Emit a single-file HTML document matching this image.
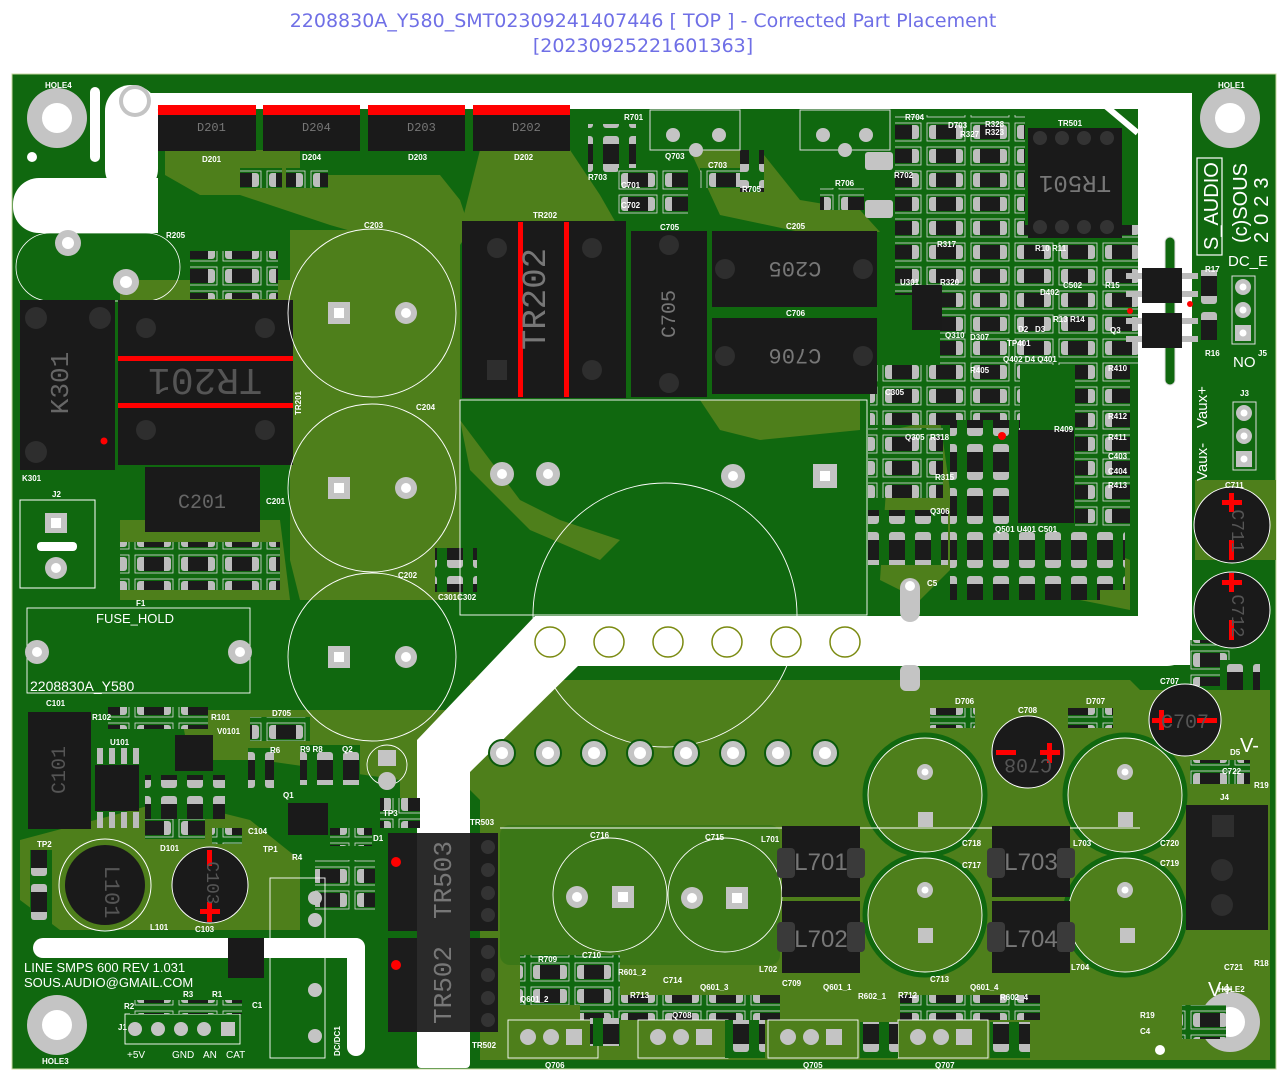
<!DOCTYPE html>
<html><head><meta charset="utf-8"><style>
html,body{margin:0;padding:0;background:#fff;width:1287px;height:1080px;overflow:hidden}
svg{display:block}
text{font-family:"Liberation Sans",sans-serif}
.t{fill:#fff;font-size:8px;font-weight:bold}
.big{fill:#fff;font-size:15px}
</style></head><body>
<svg width="1287" height="1080" viewBox="0 0 1287 1080" xmlns="http://www.w3.org/2000/svg">
<defs>
<pattern id="smd" width="44" height="24" patternUnits="userSpaceOnUse">
<rect x="0" y="0" width="44" height="24" fill="#10680f"/>
<rect x="3" y="3" width="38" height="18" fill="none" stroke="#ddd" stroke-width="0.8"/>
<rect x="5" y="5" width="34" height="14" rx="3" fill="#bdbdbd"/>
<rect x="12" y="5" width="20" height="14" fill="#1b1b1b"/>
</pattern>
<pattern id="smdv" width="26" height="44" patternUnits="userSpaceOnUse">
<rect width="26" height="44" fill="#10680f"/>
<rect x="5" y="4" width="16" height="36" rx="3" fill="#bdbdbd"/>
<rect x="5" y="12" width="16" height="20" fill="#1b1b1b"/>
</pattern>
</defs>
<text x="643" y="27" text-anchor="middle" font-size="19" fill="#6f6fe6" style="font-family:'DejaVu Sans',sans-serif">2208830A_Y580_SMT02309241407446 [ TOP ] - Corrected Part Placement</text>
<text x="643" y="52" text-anchor="middle" font-size="19" fill="#6f6fe6" style="font-family:'DejaVu Sans',sans-serif">[20230925221601363]</text>

<rect x="12" y="74" width="1264" height="995" fill="#10680f" stroke="#c8d8a0" stroke-width="1"/>

<g fill="#4e7f1b">
<polygon points="165,150 300,150 300,175 440,175 460,200 470,230 460,245 400,245 330,225 240,195 200,195 165,175"/>
<polygon points="480,150 570,150 600,195 620,230 460,230 470,190"/>
<polygon points="690,150 760,150 800,200 860,210 880,232 800,232 720,215"/>
<polygon points="290,230 460,230 460,600 420,600 300,600 290,560"/>
<polygon points="120,280 300,280 300,300 120,300"/>
<polygon points="470,680 1130,680 1140,690 1270,690 1270,1060 480,1060 480,800 470,790"/>
<polygon points="180,710 470,710 470,820 400,820 400,780 260,760 190,760"/>
<polygon points="20,840 170,800 250,820 300,860 300,930 60,930 20,900"/>
<polygon points="460,420 520,500 560,520 620,540 600,560 530,530 470,470"/>
<polygon points="700,400 860,400 860,430 760,440 720,430"/>
<polygon points="890,430 940,420 960,560 920,600 880,580"/>
<polygon points="1080,540 1130,560 1130,610 1080,600"/>
<polygon points="1195,480 1276,480 1276,560 1195,560"/>
<polygon points="120,520 280,520 290,600 120,600"/>
</g>
<g fill="none" stroke="#10680f" stroke-width="5">
<circle cx="925" cy="795" r="60"/><circle cx="925" cy="915" r="60"/>
<circle cx="1125" cy="795" r="60"/><circle cx="1125" cy="915" r="60"/>
</g>
<rect x="500" y="825" width="280" height="140" rx="10" fill="#10680f" opacity="0.3"/>

<g fill="#fff">
<rect x="150" y="93" width="1042" height="16"/>
<rect x="105" y="85" width="53" height="110" rx="26"/>
<rect x="13" y="178" width="145" height="55" rx="26"/>
<rect x="105" y="178" width="53" height="55"/>
<rect x="1138" y="93" width="54" height="572"/>
<rect x="535" y="616" width="657" height="50" rx="25"/>
<rect x="560" y="616" width="600" height="50"/>
<polygon points="560,616 470,706 470,770 417,770 417,740 535,616"/>
<polygon points="552,616 417,752 417,790 470,790 470,772 578,666"/>
<rect x="417" y="760" width="53" height="308" rx="4"/>
<rect x="33" y="938" width="332" height="20" rx="10"/>
<rect x="347" y="938" width="18" height="118" rx="9"/>
<rect x="1096" y="95" width="6" height="55" transform="rotate(-50 1100 100)"/>
</g>
<rect x="1165" y="237" width="10" height="148" rx="5" fill="#10680f" stroke="#ddd"/>
<rect x="130" y="95" width="25" height="35" fill="#fff"/>
<rect x="90" y="87" width="10" height="75" rx="5" fill="#fff"/>

<g>
<circle cx="57" cy="118" r="30" fill="#c4c4c4"/><circle cx="57" cy="118" r="15" fill="#fff"/>
<circle cx="1230" cy="118" r="30" fill="#c4c4c4"/><circle cx="1230" cy="118" r="15" fill="#fff"/>
<circle cx="57" cy="1025" r="30" fill="#c4c4c4"/><circle cx="57" cy="1025" r="15" fill="#fff"/>
<circle cx="1230" cy="1022" r="30" fill="#c4c4c4"/><circle cx="1230" cy="1022" r="15" fill="#fff"/>
<circle cx="135" cy="101" r="16" fill="#c4c4c4"/><circle cx="135" cy="101" r="12" fill="#fff"/>
<circle cx="32" cy="157" r="5" fill="#fff"/>
<circle cx="1160" cy="1050" r="5" fill="#fff"/>
</g>
<text x="45" y="88" class="t">HOLE4</text><text x="1218" y="88" class="t">HOLE1</text>
<text x="42" y="1064" class="t">HOLE3</text><text x="1218" y="992" class="t">HOLE2</text>

<rect x="16" y="233" width="164" height="68" rx="34" fill="none" stroke="#fff" stroke-width="0.8"/>
<circle cx="68" cy="243" r="13" fill="#c4c4c4"/><circle cx="68" cy="243" r="6" fill="#fff"/>
<circle cx="126" cy="282" r="13" fill="#c4c4c4"/><circle cx="126" cy="282" r="6" fill="#fff"/>
<text x="166" y="238" class="t">R205</text>

<g>
<rect x="158" y="107" width="98" height="44" fill="#1a1a1a"/><rect x="158" y="105" width="98" height="10" fill="#f00"/>
<rect x="263" y="107" width="97" height="44" fill="#1a1a1a"/><rect x="263" y="105" width="97" height="10" fill="#f00"/>
<rect x="368" y="107" width="97" height="44" fill="#1a1a1a"/><rect x="368" y="105" width="97" height="10" fill="#f00"/>
<rect x="473" y="107" width="97" height="44" fill="#1a1a1a"/><rect x="473" y="105" width="97" height="10" fill="#f00"/>
<text x="197" y="131" fill="#777" font-size="12" style="font-family:'Liberation Mono'">D201</text>
<text x="302" y="131" fill="#777" font-size="12" style="font-family:'Liberation Mono'">D204</text>
<text x="407" y="131" fill="#777" font-size="12" style="font-family:'Liberation Mono'">D203</text>
<text x="512" y="131" fill="#777" font-size="12" style="font-family:'Liberation Mono'">D202</text>
<text x="202" y="162" class="t">D201</text><text x="302" y="160" class="t">D204</text>
<text x="408" y="160" class="t">D203</text><text x="514" y="160" class="t">D202</text>
</g>

<g>
<rect x="240" y="168" width="42" height="20" fill="url(#smd)"/>
<rect x="286" y="168" width="42" height="20" fill="url(#smd)"/>
<rect x="190" y="251" width="88" height="48" fill="url(#smd)"/>
<rect x="588" y="124" width="48" height="50" fill="url(#smdv)"/>
<rect x="618" y="168" width="70" height="48" fill="url(#smd)"/>
<rect x="700" y="168" width="40" height="20" fill="url(#smd)"/>
<rect x="740" y="150" width="24" height="42" fill="url(#smdv)"/>
<rect x="820" y="188" width="44" height="22" fill="url(#smd)"/>
<rect x="108" y="707" width="100" height="22" fill="url(#smd)"/>
<rect x="120" y="542" width="160" height="48" fill="url(#smd)"/>
<rect x="435" y="548" width="42" height="44" fill="url(#smdv)"/>
<rect x="300" y="745" width="60" height="40" fill="url(#smdv)"/>
<rect x="380" y="798" width="40" height="30" fill="url(#smd)"/>
<rect x="520" y="955" width="100" height="50" fill="url(#smd)"/>
<rect x="580" y="995" width="200" height="25" fill="url(#smd)"/>
<rect x="900" y="995" width="140" height="25" fill="url(#smd)"/>
<rect x="1200" y="270" width="26" height="70" fill="url(#smdv)"/>
<rect x="1190" y="640" width="44" height="46" fill="url(#smd)"/>
<rect x="1190" y="760" width="60" height="24" fill="url(#smd)"/>
<rect x="1182" y="1005" width="44" height="34" fill="url(#smd)"/>
<rect x="30" y="850" width="22" height="75" fill="url(#smdv)"/>
<rect x="315" y="860" width="60" height="50" fill="url(#smd)"/>
</g>

<g>
<rect x="895" y="115" width="130" height="110" fill="url(#smd)"/>
<rect x="895" y="225" width="243" height="70" fill="url(#smd)"/>
<rect x="940" y="295" width="198" height="70" fill="url(#smd)"/>
<rect x="870" y="365" width="150" height="60" fill="url(#smd)"/>
<rect x="950" y="420" width="70" height="110" fill="url(#smdv)"/>
<rect x="1075" y="360" width="55" height="170" fill="url(#smd)"/>
<rect x="868" y="428" width="75" height="70" fill="url(#smd)"/>
<rect x="868" y="510" width="80" height="55" fill="url(#smdv)"/>
<rect x="950" y="530" width="150" height="70" fill="url(#smdv)"/>
<rect x="1075" y="530" width="50" height="60" fill="url(#smdv)"/>
</g>
<rect x="1018" y="430" width="56" height="93" fill="#1a1a1a"/>
<rect x="912" y="285" width="30" height="45" fill="#1a1a1a"/>
<rect x="1028" y="128" width="94" height="110" fill="#1a1a1a"/>
<g fill="#333"><circle cx="1040" cy="138" r="7"/><circle cx="1062" cy="138" r="7"/><circle cx="1084" cy="138" r="7"/><circle cx="1107" cy="138" r="7"/><circle cx="1040" cy="227" r="7"/><circle cx="1062" cy="227" r="7"/><circle cx="1084" cy="227" r="7"/><circle cx="1107" cy="227" r="7"/></g>
<text x="1075" y="190" fill="#777" font-size="24" text-anchor="middle" transform="rotate(180 1075 183)" style="font-family:'Liberation Mono'">TR501</text>
<text x="1058" y="126" class="t">TR501</text>
<rect x="1142" y="268" width="40" height="35" fill="#1a1a1a"/><rect x="1142" y="313" width="40" height="35" fill="#1a1a1a"/>
<g fill="#bbb"><rect x="1126" y="273" width="16" height="6"/><rect x="1126" y="291" width="16" height="6"/><rect x="1182" y="273" width="16" height="6"/><rect x="1182" y="291" width="16" height="6"/><rect x="1126" y="318" width="16" height="6"/><rect x="1126" y="336" width="16" height="6"/><rect x="1182" y="318" width="16" height="6"/><rect x="1182" y="336" width="16" height="6"/></g>
<g fill="#f00"><circle cx="1002" cy="436" r="4"/><circle cx="1130" cy="311" r="3"/><circle cx="1190" cy="304" r="3"/></g>

<g>
<text x="905" y="120" class="t">R704</text><text x="948" y="128" class="t">D703</text><text x="985" y="127" class="t">R328</text><text x="985" y="135" class="t">R323</text><text x="960" y="137" class="t">R327</text>
<text x="894" y="178" class="t">R702</text><text x="1035" y="251" class="t">R10</text><text x="1052" y="251" class="t">R11</text>
<text x="1063" y="288" class="t">C502</text><text x="1105" y="288" class="t">R15</text><text x="1205" y="272" class="t">R17</text><text x="1205" y="356" class="t">R16</text>
<text x="1053" y="322" class="t">R13</text><text x="1070" y="322" class="t">R14</text><text x="1110" y="333" class="t">Q3</text>
<text x="1018" y="332" class="t">D2</text><text x="1035" y="332" class="t">D3</text><text x="1040" y="295" class="t">D402</text>
<text x="1007" y="346" class="t">TP401</text><text x="1003" y="362" class="t">Q402 D4 Q401</text>
<text x="970" y="373" class="t">R405</text><text x="1108" y="371" class="t">R410</text><text x="1108" y="419" class="t">R412</text>
<text x="1108" y="440" class="t">R411</text><text x="1108" y="459" class="t">C403</text><text x="1108" y="474" class="t">C404</text><text x="1108" y="488" class="t">R413</text>
<text x="1054" y="432" class="t">R409</text><text x="905" y="440" class="t">Q305</text><text x="930" y="440" class="t">R318</text>
<text x="935" y="480" class="t">R315</text><text x="930" y="514" class="t">Q306</text>
<text x="995" y="532" class="t">Q501 U401</text><text x="1038" y="532" class="t">C501</text>
<text x="927" y="586" class="t">C5</text><text x="885" y="395" class="t">C305</text><text x="900" y="285" class="t">U301</text><text x="940" y="285" class="t">R320</text>
<text x="937" y="247" class="t">R317</text><text x="945" y="338" class="t">Q310</text><text x="970" y="340" class="t">D307</text>
</g>

<rect x="1197" y="158" width="25" height="97" fill="none" stroke="#fff" stroke-width="1.2"/>
<text x="1218" y="250" fill="#fff" font-size="20" transform="rotate(-90 1218 250)">S_AUDIO</text>
<text x="1247" y="243" fill="#fff" font-size="20" transform="rotate(-90 1247 243)">(c)SOUS</text>
<text x="1268" y="243" fill="#fff" font-size="20" letter-spacing="7" transform="rotate(-90 1268 243)">2023</text>
<text x="1228" y="266" class="big">DC_E</text>
<text x="1233" y="367" class="big">NO</text>
<text x="1207" y="428" class="big" transform="rotate(-90 1207 428)">Vaux+</text>
<text x="1207" y="481" class="big" transform="rotate(-90 1207 481)">Vaux-</text>
<text x="1240" y="752" fill="#fff" font-size="20">V-</text>
<text x="1208" y="996" fill="#fff" font-size="20">V+</text>
<rect x="1232" y="276" width="23" height="68" fill="none" stroke="#ddd"/>
<g fill="#c4c4c4"><circle cx="1243" cy="287" r="8"/><circle cx="1243" cy="310" r="8"/><rect x="1235" y="325" width="16" height="16"/>
<circle cx="1244" cy="413" r="8"/><circle cx="1244" cy="436" r="8"/><rect x="1236" y="451" width="16" height="16"/></g>
<g fill="#fff"><circle cx="1243" cy="287" r="3.5"/><circle cx="1243" cy="310" r="3.5"/><circle cx="1243" cy="333" r="3.5"/><circle cx="1244" cy="413" r="3.5"/><circle cx="1244" cy="436" r="3.5"/><circle cx="1244" cy="459" r="3.5"/></g>
<rect x="1233" y="402" width="23" height="68" fill="none" stroke="#ddd"/>
<text x="1258" y="356" class="t">J5</text><text x="1240" y="396" class="t">J3</text>

<rect x="462" y="221" width="164" height="177" fill="#1a1a1a"/>
<rect x="518" y="222" width="5" height="175" fill="#f00"/><rect x="564" y="222" width="5" height="175" fill="#f00"/>
<text x="556" y="310" fill="#777" font-size="34" text-anchor="middle" transform="rotate(-90 545 310)" style="font-family:'Liberation Mono'">TR202</text>
<g fill="#2e2e2e"><circle cx="497" cy="248" r="10"/><circle cx="592" cy="248" r="10"/><rect x="487" y="360" width="20" height="20"/><circle cx="592" cy="370" r="10"/></g>
<text x="533" y="218" class="t">TR202</text>
<rect x="631" y="231" width="76" height="166" fill="#1a1a1a"/>
<text x="669" y="320" fill="#777" font-size="20" text-anchor="middle" transform="rotate(-90 669 314)" style="font-family:'Liberation Mono'">C705</text>
<g fill="#2e2e2e"><circle cx="669" cy="245" r="10"/><circle cx="669" cy="383" r="10"/></g>
<rect x="712" y="231" width="165" height="76" fill="#1a1a1a"/><rect x="712" y="318" width="165" height="76" fill="#1a1a1a"/>
<text x="795" y="276" fill="#777" font-size="22" text-anchor="middle" transform="rotate(180 795 269)" style="font-family:'Liberation Mono'">C205</text>
<text x="795" y="363" fill="#777" font-size="22" text-anchor="middle" transform="rotate(180 795 356)" style="font-family:'Liberation Mono'">C706</text>
<g fill="#2e2e2e"><circle cx="725" cy="269" r="10"/><circle cx="863" cy="269" r="10"/><circle cx="725" cy="356" r="10"/><circle cx="863" cy="356" r="10"/></g>
<text x="660" y="230" class="t">C705</text><text x="786" y="229" class="t">C205</text><text x="786" y="316" class="t">C706</text>
<text x="624" y="120" class="t">R701</text><text x="665" y="159" class="t">Q703</text><text x="708" y="168" class="t">C703</text><text x="742" y="192" class="t">R705</text><text x="835" y="186" class="t">R706</text>
<text x="588" y="180" class="t">R703</text><text x="621" y="188" class="t">C701</text><text x="621" y="208" class="t">C702</text>
<rect x="650" y="110" width="90" height="40" fill="none" stroke="#ddd"/>
<rect x="800" y="110" width="90" height="40" fill="none" stroke="#ddd"/>
<g fill="#c4c4c4"><circle cx="673" cy="135" r="7"/><circle cx="719" cy="135" r="7"/><circle cx="696" cy="150" r="7"/><circle cx="823" cy="135" r="7"/><circle cx="866" cy="135" r="7"/><circle cx="845" cy="150" r="7"/><rect x="865" y="152" width="28" height="18" rx="3"/><rect x="865" y="200" width="28" height="18" rx="3"/></g>

<rect x="118" y="300" width="175" height="165" fill="#1a1a1a"/>
<rect x="118" y="356" width="175" height="5" fill="#f00"/><rect x="118" y="403" width="175" height="5" fill="#f00"/>
<text x="205" y="395" fill="#555" font-size="38" text-anchor="middle" transform="rotate(180 205 382)" style="font-family:'Liberation Mono'">TR201</text>
<g fill="#2e2e2e"><circle cx="146" cy="328" r="10"/><circle cx="265" cy="328" r="10"/><circle cx="146" cy="430" r="10"/><circle cx="265" cy="430" r="10"/></g>
<text x="301" y="415" class="t" transform="rotate(-90 301 415)">TR201</text>
<rect x="20" y="300" width="95" height="170" fill="#1a1a1a"/>
<text x="70" y="385" fill="#666" font-size="26" text-anchor="middle" transform="rotate(-90 68 385)" style="font-family:'Liberation Mono'">K301</text>
<g fill="#2e2e2e"><circle cx="36" cy="318" r="11"/><circle cx="36" cy="452" r="11"/><circle cx="100" cy="318" r="11"/></g>
<circle cx="104" cy="441" r="3.5" fill="#f00"/>
<text x="22" y="481" class="t">K301</text>
<rect x="145" y="467" width="115" height="65" fill="#1a1a1a"/>
<text x="202" y="508" fill="#666" font-size="20" text-anchor="middle" style="font-family:'Liberation Mono'">C201</text>
<text x="266" y="504" class="t">C201</text>
<rect x="20" y="500" width="75" height="88" fill="none" stroke="#fff"/>
<g fill="#c4c4c4"><rect x="45" y="513" width="22" height="20"/><circle cx="56" cy="568" r="11"/></g>
<rect x="51" y="518" width="10" height="10" fill="#fff"/><circle cx="56" cy="568" r="5" fill="#fff"/>
<rect x="37" y="542" width="40" height="9" rx="4" fill="#fff"/>
<text x="52" y="497" class="t">J2</text>

<g fill="none" stroke="#fff" stroke-width="0.9">
<circle cx="372" cy="313" r="84"/><circle cx="372" cy="488" r="84"/><circle cx="372" cy="657" r="84"/>
<circle cx="665" cy="615" r="132"/>
<circle cx="610" cy="895" r="57"/><circle cx="725" cy="895" r="57"/>
<circle cx="925" cy="795" r="57"/><circle cx="925" cy="915" r="57"/>
<circle cx="1125" cy="795" r="57"/><circle cx="1125" cy="915" r="57"/>
<circle cx="387" cy="765" r="20"/>
<rect x="460" y="400" width="407" height="215"/>
<rect x="27" y="608" width="223" height="85"/>
<rect x="270" y="878" width="55" height="180"/>
<rect x="125" y="1014" width="115" height="30"/>
<rect x="508" y="1020" width="90" height="38"/><rect x="638" y="1020" width="90" height="38"/><rect x="768" y="1020" width="90" height="38"/><rect x="898" y="1020" width="90" height="38"/>
<line x1="500" y1="828" x2="1140" y2="828"/>
</g>
<g fill="#c4c4c4">
<rect x="328" y="302" width="22" height="22"/><circle cx="406" cy="313" r="11"/>
<rect x="328" y="477" width="22" height="22"/><circle cx="406" cy="488" r="11"/>
<rect x="328" y="646" width="22" height="22"/><circle cx="406" cy="657" r="11"/>
<circle cx="502" cy="474" r="12"/><circle cx="548" cy="474" r="12"/><circle cx="733" cy="476" r="12"/><rect x="813" y="464" width="24" height="24"/>
<circle cx="577" cy="897" r="11"/><rect x="612" y="886" width="22" height="22"/>
<circle cx="692" cy="898" r="11"/><rect x="726" y="887" width="22" height="22"/>
<circle cx="925" cy="772" r="8"/><rect x="918" y="812" width="15" height="15"/>
<circle cx="925" cy="890" r="8"/><rect x="918" y="928" width="15" height="15"/>
<circle cx="1125" cy="772" r="8"/><rect x="1118" y="812" width="15" height="15"/>
<circle cx="1125" cy="890" r="8"/><rect x="1120" y="928" width="15" height="15"/>
<circle cx="387" cy="781" r="9"/><rect x="378" y="750" width="18" height="16"/>
<rect x="900" y="578" width="20" height="44" rx="10"/><rect x="900" y="665" width="20" height="26" rx="6"/>
</g>
<g fill="#fff">
<rect x="334" y="308" width="10" height="10"/><circle cx="406" cy="313" r="5"/>
<rect x="334" y="483" width="10" height="10"/><circle cx="406" cy="488" r="5"/>
<rect x="334" y="652" width="10" height="10"/><circle cx="406" cy="657" r="5"/>
<circle cx="502" cy="474" r="5"/><circle cx="548" cy="474" r="5"/><circle cx="733" cy="476" r="5"/><rect x="820" y="471" width="10" height="10"/>
<circle cx="577" cy="897" r="5"/><rect x="618" y="892" width="10" height="10"/><circle cx="692" cy="898" r="5"/><rect x="732" y="893" width="10" height="10"/>
<circle cx="910" cy="586" r="5"/>
<circle cx="925" cy="772" r="3.5"/><circle cx="925" cy="890" r="3.5"/><circle cx="1125" cy="772" r="3.5"/><circle cx="1125" cy="890" r="3.5"/>
</g>
<text x="364" y="228" class="t">C203</text><text x="416" y="410" class="t">C204</text><text x="398" y="578" class="t">C202</text>
<text x="590" y="838" class="t">C716</text><text x="705" y="840" class="t">C715</text>
<text x="962" y="846" class="t">C718</text><text x="962" y="868" class="t">C717</text><text x="1160" y="846" class="t">C720</text><text x="1160" y="866" class="t">C719</text>
<text x="438" y="600" class="t">C301C302</text>

<g fill="#fff" stroke="#7a8a10" stroke-width="1.5">
<circle cx="550" cy="642" r="15"/><circle cx="609" cy="642" r="15"/><circle cx="668" cy="642" r="15"/><circle cx="727" cy="642" r="15"/><circle cx="786" cy="642" r="15"/><circle cx="845" cy="642" r="15"/>
</g>
<g fill="#c4c4c4" stroke="#0b5a0b" stroke-width="2">
<circle cx="502" cy="753" r="13"/><circle cx="548" cy="753" r="13"/><circle cx="594" cy="753" r="13"/><circle cx="640" cy="753" r="13"/><circle cx="686" cy="753" r="13"/><circle cx="733" cy="753" r="13"/><circle cx="778" cy="753" r="13"/><circle cx="825" cy="753" r="13"/>
</g>
<g fill="#fff"><circle cx="502" cy="753" r="6"/><circle cx="548" cy="753" r="6"/><circle cx="594" cy="753" r="6"/><circle cx="640" cy="753" r="6"/><circle cx="686" cy="753" r="6"/><circle cx="733" cy="753" r="6"/><circle cx="778" cy="753" r="6"/><circle cx="825" cy="753" r="6"/></g>

<rect x="388" y="833" width="110" height="98" fill="#1c1c1c"/>
<rect x="388" y="938" width="110" height="94" fill="#1c1c1c"/>
<rect x="417" y="833" width="53" height="199" fill="#2a2a2a"/>
<g fill="#333"><circle cx="488" cy="847" r="7"/><circle cx="488" cy="870" r="7"/><circle cx="488" cy="893" r="7"/><circle cx="488" cy="915" r="7"/><circle cx="488" cy="952" r="7"/><circle cx="488" cy="975" r="7"/><circle cx="488" cy="998" r="7"/><circle cx="488" cy="1020" r="7"/></g>
<circle cx="396" cy="862" r="5" fill="#f00"/><circle cx="396" cy="965" r="5" fill="#f00"/>
<text x="446" y="885" fill="#777" font-size="26" text-anchor="middle" transform="rotate(-90 446 880)" style="font-family:'Liberation Mono'">TR503</text>
<text x="446" y="990" fill="#777" font-size="26" text-anchor="middle" transform="rotate(-90 446 985)" style="font-family:'Liberation Mono'">TR502</text>
<text x="470" y="825" class="t">TR503</text><text x="472" y="1048" class="t">TR502</text>

<g>
<rect x="782" y="826" width="78" height="71" fill="#1a1a1a"/><rect x="782" y="901" width="78" height="72" fill="#1a1a1a"/>
<rect x="992" y="826" width="78" height="71" fill="#1a1a1a"/><rect x="992" y="901" width="78" height="72" fill="#1a1a1a"/>
<g fill="#3a3a3a"><rect x="777" y="848" width="18" height="30" rx="4"/><rect x="847" y="848" width="18" height="30" rx="4"/><rect x="777" y="922" width="18" height="30" rx="4"/><rect x="847" y="922" width="18" height="30" rx="4"/>
<rect x="987" y="848" width="18" height="30" rx="4"/><rect x="1057" y="848" width="18" height="30" rx="4"/><rect x="987" y="922" width="18" height="30" rx="4"/><rect x="1057" y="922" width="18" height="30" rx="4"/></g>
<g fill="#777" font-size="24" style="font-family:'Liberation Mono'" text-anchor="middle">
<text x="821" y="870">L701</text><text x="821" y="947">L702</text><text x="1031" y="870">L703</text><text x="1031" y="947">L704</text></g>
<text x="761" y="842" class="t">L701</text><text x="759" y="972" class="t">L702</text><text x="1073" y="846" class="t">L703</text><text x="1071" y="970" class="t">L704</text>
</g>

<g>
<circle cx="1232" cy="525" r="38" fill="#1a1a1a" stroke="#fff"/><circle cx="1232" cy="610" r="38" fill="#1a1a1a" stroke="#fff"/>
<circle cx="1185" cy="720" r="36" fill="#1a1a1a" stroke="#fff"/><circle cx="1028" cy="752" r="36" fill="#1a1a1a" stroke="#fff"/>
<g fill="#f00"><rect x="1222" y="500" width="20" height="5"/><rect x="1229" y="493" width="5" height="19"/><rect x="1229" y="540" width="5" height="20"/>
<rect x="1222" y="580" width="20" height="5"/><rect x="1229" y="573" width="5" height="19"/><rect x="1229" y="620" width="5" height="20"/>
<rect x="1152" y="718" width="20" height="5"/><rect x="1159" y="710" width="5" height="20"/><rect x="1197" y="718" width="20" height="5"/>
<rect x="1040" y="750" width="20" height="5"/><rect x="1047" y="743" width="5" height="20"/><rect x="996" y="750" width="20" height="5"/></g>
<text x="1238" y="525" fill="#555" font-size="18" text-anchor="middle" transform="rotate(90 1232 525)" style="font-family:'Liberation Mono'">C711</text>
<text x="1238" y="610" fill="#555" font-size="18" text-anchor="middle" transform="rotate(90 1232 610)" style="font-family:'Liberation Mono'">C712</text>
<text x="1185" y="728" fill="#555" font-size="20" text-anchor="middle" style="font-family:'Liberation Mono'">C707</text>
<text x="1028" y="745" fill="#555" font-size="20" text-anchor="middle" transform="rotate(180 1028 752)" style="font-family:'Liberation Mono'">C708</text>
<text x="1225" y="488" class="t">C711</text><text x="1160" y="684" class="t">C707</text><text x="1018" y="713" class="t">C708</text>
</g>
<rect x="1186" y="805" width="82" height="125" fill="#1c1c1c"/>
<g fill="#2e2e2e"><rect x="1212" y="815" width="22" height="22"/><circle cx="1222" cy="870" r="11"/><circle cx="1222" cy="905" r="11"/></g>
<text x="1220" y="800" class="t">J4</text>
<rect x="930" y="708" width="45" height="20" fill="url(#smd)"/><rect x="1068" y="708" width="45" height="20" fill="url(#smd)"/>
<text x="955" y="704" class="t">D706</text><text x="1086" y="704" class="t">D707</text>
<rect x="1220" y="660" width="40" height="30" fill="url(#smdv)"/>

<rect x="28" y="712" width="63" height="117" fill="#1a1a1a"/>
<text x="60" y="775" fill="#555" font-size="20" text-anchor="middle" transform="rotate(-90 60 770)" style="font-family:'Liberation Mono'">C101</text>
<text x="46" y="706" class="t">C101</text><text x="92" y="720" class="t">R102</text><text x="211" y="720" class="t">R101</text>
<rect x="95" y="765" width="44" height="46" fill="#1a1a1a"/>
<g fill="#bbb"><rect x="97" y="748" width="6" height="16"/><rect x="109" y="748" width="6" height="16"/><rect x="121" y="748" width="6" height="16"/><rect x="133" y="748" width="6" height="16"/><rect x="97" y="812" width="6" height="16"/><rect x="109" y="812" width="6" height="16"/><rect x="121" y="812" width="6" height="16"/><rect x="133" y="812" width="6" height="16"/></g>
<rect x="175" y="735" width="38" height="36" fill="#1a1a1a"/>
<rect x="145" y="815" width="60" height="24" fill="url(#smd)"/>
<rect x="145" y="775" width="80" height="44" fill="url(#smdv)"/>
<rect x="250" y="717" width="60" height="24" fill="url(#smd)"/>
<rect x="248" y="748" width="26" height="44" fill="url(#smdv)"/>
<rect x="212" y="828" width="30" height="16" fill="url(#smd)"/>
<rect x="288" y="803" width="40" height="32" fill="#1a1a1a"/>
<rect x="330" y="828" width="42" height="18" fill="url(#smd)"/>
<circle cx="105" cy="885" r="46" fill="none" stroke="#fff"/><circle cx="105" cy="885" r="40" fill="#1a1a1a"/>
<text x="112" y="885" fill="#555" font-size="22" text-anchor="middle" transform="rotate(90 105 885)" style="font-family:'Liberation Mono'">L101</text>
<circle cx="210" cy="885" r="38" fill="#1a1a1a" stroke="#fff"/>
<g fill="#f00"><rect x="207" y="850" width="5" height="16"/><rect x="200" y="909" width="20" height="5"/><rect x="207" y="902" width="5" height="20"/></g>
<text x="208" y="888" fill="#555" font-size="18" text-anchor="middle" transform="rotate(90 210 885)" style="font-family:'Liberation Mono'">C103</text>
<text x="150" y="930" class="t">L101</text><text x="195" y="932" class="t">C103</text><text x="110" y="745" class="t">U101</text><text x="217" y="734" class="t">V0101</text>
<text x="272" y="716" class="t">D705</text><text x="283" y="798" class="t">Q1</text><text x="37" y="847" class="t">TP2</text><text x="263" y="852" class="t">TP1</text><text x="383" y="816" class="t">TP3</text>
<text x="373" y="841" class="t">D1</text><text x="292" y="860" class="t">R4</text><text x="300" y="752" class="t">R9 R8</text><text x="342" y="752" class="t">Q2</text><text x="270" y="753" class="t">R6</text>
<text x="160" y="851" class="t">D101</text><text x="248" y="834" class="t">C104</text>
<rect x="228" y="938" width="36" height="40" fill="#1a1a1a"/>
<text x="96" y="623" fill="#fff" font-size="13">FUSE_HOLD</text>
<text x="30" y="691" fill="#fff" font-size="14">2208830A_Y580</text>
<text x="136" y="606" class="t">F1</text>
<g fill="#c4c4c4"><circle cx="37" cy="652" r="12"/><circle cx="240" cy="652" r="12"/></g>
<g fill="#fff"><circle cx="37" cy="652" r="5"/><circle cx="240" cy="652" r="5"/></g>
<text x="24" y="972" fill="#fff" font-size="13">LINE SMPS 600   REV 1.031</text>
<text x="24" y="987" fill="#fff" font-size="13">SOUS.AUDIO@GMAIL.COM</text>
<rect x="130" y="1000" width="112" height="14" fill="url(#smd)"/>
<g fill="#c4c4c4"><circle cx="135" cy="1029" r="7"/><circle cx="158" cy="1029" r="7"/><circle cx="181" cy="1029" r="7"/><circle cx="204" cy="1029" r="7"/><rect x="221" y="1022" width="14" height="14"/>
<circle cx="315" cy="898" r="7"/><circle cx="315" cy="920" r="7"/><circle cx="315" cy="990" r="7"/><circle cx="315" cy="1036" r="7"/></g>
<text x="127" y="1058" fill="#fff" font-size="10">+5V</text><text x="172" y="1058" fill="#fff" font-size="10">GND</text><text x="203" y="1058" fill="#fff" font-size="10">AN</text><text x="226" y="1058" fill="#fff" font-size="10">CAT</text>
<text x="118" y="1030" class="t">J1</text><text x="124" y="1009" class="t">R2</text><text x="183" y="997" class="t">R3</text><text x="212" y="997" class="t">R1</text><text x="252" y="1008" class="t">C1</text>
<text x="340" y="1056" class="t" transform="rotate(-90 340 1056)">DC/DC1</text>

<g fill="#c4c4c4">
<circle cx="528" cy="1037" r="8"/><circle cx="551" cy="1037" r="8"/><rect x="566" y="1029" width="16" height="16"/>
<circle cx="658" cy="1037" r="8"/><circle cx="681" cy="1037" r="8"/><rect x="696" y="1029" width="16" height="16"/>
<circle cx="788" cy="1037" r="8"/><circle cx="811" cy="1037" r="8"/><rect x="826" y="1029" width="16" height="16"/>
<circle cx="918" cy="1037" r="8"/><circle cx="941" cy="1037" r="8"/><rect x="956" y="1029" width="16" height="16"/>
</g>
<text x="545" y="1068" class="t">Q706</text><text x="803" y="1068" class="t">Q705</text><text x="935" y="1068" class="t">Q707</text>
<text x="538" y="962" class="t">R709</text><text x="582" y="958" class="t">C710</text><text x="618" y="975" class="t">R601_2</text><text x="520" y="1002" class="t">Q601_2</text>
<text x="630" y="998" class="t">R713</text><text x="663" y="983" class="t">C714</text><text x="672" y="1018" class="t">Q708</text><text x="700" y="990" class="t">Q601_3</text>
<text x="782" y="986" class="t">C709</text><text x="823" y="990" class="t">Q601_1</text><text x="858" y="999" class="t">R602_1</text><text x="898" y="998" class="t">R712</text>
<text x="930" y="982" class="t">C713</text><text x="970" y="990" class="t">Q601_4</text><text x="1000" y="1000" class="t">R602_4</text>
<rect x="590" y="1018" width="30" height="28" fill="url(#smdv)"/><rect x="725" y="1020" width="40" height="38" fill="url(#smdv)"/><rect x="860" y="1022" width="38" height="36" fill="url(#smdv)"/><rect x="990" y="1022" width="40" height="36" fill="url(#smdv)"/>
<text x="1224" y="970" class="t">C721</text><text x="1254" y="966" class="t">R18</text><text x="1140" y="1018" class="t">R19</text><text x="1140" y="1034" class="t">C4</text>
<text x="1254" y="788" class="t">R19</text><text x="1230" y="755" class="t">D5</text><text x="1222" y="774" class="t">C722</text>
</svg>
</body></html>
